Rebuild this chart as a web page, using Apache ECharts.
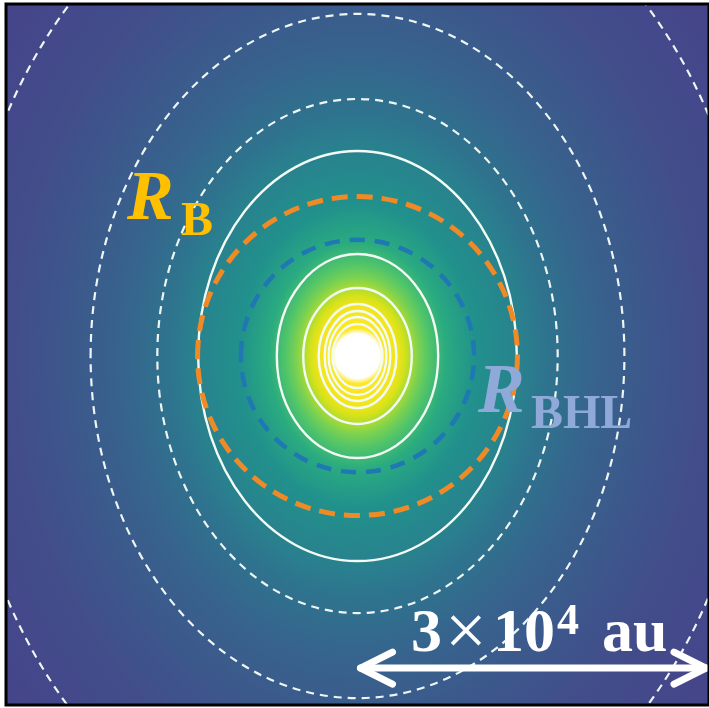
<!DOCTYPE html>
<html><head><meta charset="utf-8">
<script src="https://cdn.jsdelivr.net/npm/echarts@6/dist/echarts.min.js"></script>
<style>html,body{margin:0;padding:0;background:#fff}#c{width:709px;height:708px}</style>
</head><body><div id="c"></div>
<script>
// ---------------- data (all lengths in au) ----------------
const densityCenter = [0, -130];
const densityAspect = 1.28;               // vertical / horizontal stretch of isodensity surfaces
// horizontal radius (au) at which the projected density takes each colour
const densityProfileR = [0, 2040, 2300, 3400, 4000, 4590, 5270, 6120, 7565, 10115, 14365, 16065, 20315, 26265, 29665, 38165, 44030];
const densityProfileColor = ['#fde725', '#fde725', '#fbe622', '#f0e41c', '#d6e21a', '#a8db34', '#7ad151', '#52c569', '#2aab80', '#21918c',
  '#2a7f8e', '#2e748e', '#37638d', '#3e548b', '#424d8a', '#46448a', '#47408a'];
const coreRadius = 2380;                  // saturated (white) core
// dashed (low-density) contours: semi-axes
const dashedContourA = [34000, 22780, 17085];
const dashedContourB = [43600, 29280, 22000];
// solid (high-density) contours: semi-axes
const solidContourA = [13600, 6885, 4630, 3315, 2800, 2465, 2125];
const solidContourB = [17550, 8730, 5820, 4450, 3850, 3340, 2740];
// characteristic radii
const radiusBondi = 13650;
const radiusBHL = 9950;
// scale bar: 3x10^4 au
const scaleBarX = [0, 30000];
const scaleBarY = -26840;
const axisRange = [-30000, 30000];

// ---------------- chart ----------------
const chart = echarts.init(document.getElementById('c'), null, {renderer: 'canvas'});

const gradStops = densityProfileR.map((r, i) => ({
  offset: r / densityProfileR[densityProfileR.length - 1],
  color: densityProfileColor[i]
}));

function ellipseItem(params, api, style) {
  const c = api.coord([api.value(0), api.value(1)]);
  const s = api.size([api.value(2), api.value(3)]);
  return {type: 'ellipse', shape: {cx: c[0], cy: c[1], rx: s[0], ry: s[1]}, style: style};
}

const option = {
  animation: false,
  backgroundColor: '#ffffff',
  grid: {left: 6, top: 4, width: 706, height: 701, show: true, z: 10,
         backgroundColor: 'transparent', borderColor: '#000', borderWidth: 3},
  xAxis: {type: 'value', min: axisRange[0], max: axisRange[1], show: false},
  yAxis: {type: 'value', min: axisRange[0], max: axisRange[1], show: false},
  series: [
    { // density map
      type: 'custom', clip: true, z: 1,
      data: [[densityCenter[0], densityCenter[1], densityProfileR[densityProfileR.length - 1]]],
      renderItem(params, api) {
        const c = api.coord([api.value(0), api.value(1)]);
        const R = api.size([api.value(2), 0])[0];
        return {type: 'circle', x: c[0], y: c[1], scaleX: 1, scaleY: densityAspect,
          shape: {cx: 0, cy: 0, r: R},
          style: {fill: {type: 'radial', x: 0.5, y: 0.5, r: 0.5, colorStops: gradStops}}};
      }
    },
    { // saturated core
      type: 'custom', clip: true, z: 2,
      data: [[densityCenter[0], densityCenter[1], coreRadius]],
      renderItem(params, api) {
        const c = api.coord([api.value(0), api.value(1)]);
        const R = api.size([api.value(2), 0])[0];
        return {type: 'circle', shape: {cx: c[0], cy: c[1], r: R},
          style: {fill: {type: 'radial', x: 0.5, y: 0.5, r: 0.5, colorStops: [
            {offset: 0, color: '#ffffff'}, {offset: 0.8, color: '#ffffff'}, {offset: 1, color: 'rgba(255,255,255,0)'}]}}};
      }
    },
    { // dashed contours
      type: 'custom', clip: true, z: 3,
      data: dashedContourA.map((a, i) => [densityCenter[0], densityCenter[1], a, dashedContourB[i]]),
      renderItem: (p, api) => ellipseItem(p, api, {fill: null, stroke: '#eef6f4', lineWidth: 2.2, lineDash: [8, 6]})
    },
    { // solid contours
      type: 'custom', clip: true, z: 3,
      data: solidContourA.map((a, i) => [densityCenter[0], densityCenter[1], a, solidContourB[i]]),
      renderItem: (p, api) => ellipseItem(p, api, {fill: null, stroke: '#f2fbf6', lineWidth: 2.4})
    },
    { // Bondi radius
      type: 'custom', clip: true, z: 4,
      data: [[densityCenter[0], densityCenter[1], radiusBondi, radiusBondi]],
      renderItem: (p, api) => ellipseItem(p, api, {fill: null, stroke: '#f08a26', lineWidth: 5, lineDash: [16, 9]})
    },
    { // BHL radius
      type: 'custom', clip: true, z: 4,
      data: [[densityCenter[0], densityCenter[1], radiusBHL, radiusBHL]],
      renderItem: (p, api) => ellipseItem(p, api, {fill: null, stroke: '#1f77b4', lineWidth: 4.5, lineDash: [15, 10]})
    },
    { // scale bar
      type: 'custom', clip: true, z: 5,
      data: [[scaleBarX[0], scaleBarX[1], scaleBarY]],
      renderItem(params, api) {
        const a = api.coord([api.value(0), api.value(2)]);
        const b = api.coord([api.value(1), api.value(2)]);
        const st = {stroke: '#ffffff', lineWidth: 7, lineCap: 'round', lineJoin: 'round', fill: null};
        const ax = a[0] + 3, bx = b[0] - 3, y = a[1];
        return {type: 'group', children: [
          {type: 'line', shape: {x1: ax, y1: y, x2: bx, y2: y}, style: st},
          {type: 'polyline', shape: {points: [[ax + 32, y - 16], [ax, y], [ax + 32, y + 16]]}, style: st},
          {type: 'polyline', shape: {points: [[bx - 32, y - 16], [bx, y], [bx - 32, y + 16]]}, style: st}
        ]};
      }
    }
  ],
  graphic: [
    {type: 'text', x: 127, y: 201, z: 100, style: {text: 'R', fontSize: 70, fontFamily: 'Liberation Serif', fontWeight: 'bold', fontStyle: 'italic', fill: '#ffc000', verticalAlign: 'middle'}},
    {type: 'text', x: 181, y: 223, z: 100, style: {text: 'B', fontSize: 48, fontFamily: 'Liberation Serif', fontWeight: 'bold', fill: '#ffc000', verticalAlign: 'middle'}},
    {type: 'text', x: 478, y: 394, z: 100, style: {text: 'R', fontSize: 70, fontFamily: 'Liberation Serif', fontWeight: 'bold', fontStyle: 'italic', fill: '#8faad9', verticalAlign: 'middle'}},
    {type: 'text', x: 531, y: 416, z: 100, style: {text: 'BHL', fontSize: 48, fontFamily: 'Liberation Serif', fontWeight: 'bold', fill: '#8faad9', verticalAlign: 'middle'}},
    {type: 'text', x: 411, y: 635, z: 100, style: {text: '3', fontSize: 62, fontFamily: 'Liberation Serif', fontWeight: 'bold', fill: '#ffffff', verticalAlign: 'middle'}},
    {type: 'text', x: 445, y: 636, z: 100, style: {text: '\u00d7', fontSize: 74, fontFamily: 'Liberation Serif', fill: '#ffffff', verticalAlign: 'middle'}},
    {type: 'text', x: 493, y: 635, z: 100, style: {text: '10', fontSize: 62, fontFamily: 'Liberation Serif', fontWeight: 'bold', fill: '#ffffff', verticalAlign: 'middle'}},
    {type: 'text', x: 557, y: 623, z: 100, style: {text: '4', fontSize: 44, fontFamily: 'Liberation Serif', fontWeight: 'bold', fill: '#ffffff', verticalAlign: 'middle'}},
    {type: 'text', x: 602, y: 635, z: 100, style: {text: 'au', fontSize: 62, fontFamily: 'Liberation Serif', fontWeight: 'bold', fill: '#ffffff', verticalAlign: 'middle'}}
  ]
};
chart.setOption(option);
</script></body></html>
